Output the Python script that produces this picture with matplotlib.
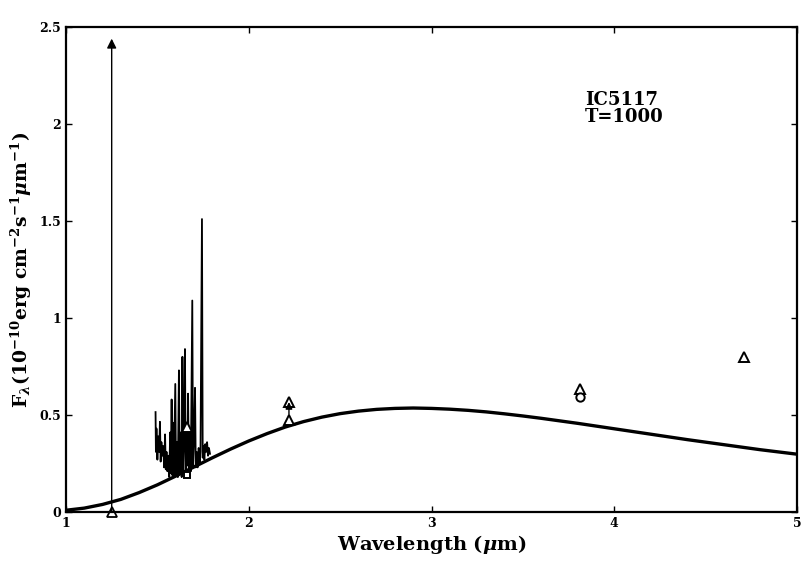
import matplotlib
matplotlib.use("Agg")
import matplotlib.pyplot as plt

# Blackbody model curve (T=1000 K)
bb_wl = [1.0, 1.1, 1.2, 1.3, 1.4, 1.5, 1.6, 1.7, 1.8, 1.9, 2.0, 2.1, 2.2, 2.3, 2.4,
         2.5, 2.6, 2.7, 2.8, 2.9, 3.0, 3.1, 3.2, 3.3, 3.4, 3.5, 3.6, 3.7, 3.8, 3.9,
         4.0, 4.2, 4.4, 4.6, 4.8, 5.0]
bb_flux = [0.009, 0.020, 0.039, 0.065, 0.100, 0.140, 0.185, 0.232, 0.279, 0.324,
           0.366, 0.404, 0.438, 0.466, 0.489, 0.507, 0.520, 0.529, 0.534, 0.536,
           0.534, 0.530, 0.524, 0.516, 0.506, 0.495, 0.483, 0.470, 0.457, 0.443,
           0.429, 0.401, 0.373, 0.347, 0.321, 0.298]

# Observed spectrum (H band)
sp_wl = [1.490, 1.492, 1.495, 1.500, 1.505, 1.510, 1.514, 1.518, 1.522, 1.527,
         1.532, 1.537, 1.542, 1.546, 1.550, 1.555, 1.560, 1.565, 1.570, 1.573,
         1.578, 1.582, 1.586, 1.590, 1.598, 1.602, 1.607, 1.612, 1.618, 1.622,
         1.628, 1.633, 1.637, 1.641, 1.646, 1.651, 1.655, 1.660, 1.664, 1.668,
         1.672, 1.678, 1.683, 1.691, 1.695, 1.700, 1.706, 1.710, 1.715, 1.720,
         1.726, 1.731, 1.736, 1.744, 1.748, 1.752, 1.757, 1.762, 1.767, 1.772,
         1.777, 1.782, 1.788]
sp_flux = [0.515, 0.31, 0.43, 0.27, 0.39, 0.31, 0.465, 0.26, 0.36, 0.29,
           0.34, 0.23, 0.40, 0.22, 0.31, 0.21, 0.29, 0.18, 0.41, 0.20,
           0.58, 0.19, 0.46, 0.18, 0.66, 0.19, 0.36, 0.18, 0.73, 0.20,
           0.41, 0.18, 0.80, 0.21, 0.36, 0.84, 0.20, 0.46, 0.24, 0.61,
           0.21, 0.41, 0.21, 1.09, 0.24, 0.36, 0.64, 0.23, 0.31, 0.23,
           0.33, 0.25, 0.31, 1.51, 0.28, 0.34, 0.27, 0.35, 0.31, 0.36,
           0.29, 0.33, 0.30]

# Photometric points
tri_wl = [1.66, 2.22, 2.22, 3.81, 4.71]
tri_flux = [0.44, 0.567, 0.474, 0.634, 0.80]
circ_wl = [3.81]
circ_flux = [0.594]
sq_wl = [1.66]
sq_flux = [0.19]
# Upper-limit arrow at J band
arrow_wl = 1.25
arrow_lo = 0.0
arrow_hi = 2.44

plt.rcParams['font.family'] = ['DejaVu Serif']
plt.rcParams['font.weight'] = 'bold'
plt.rcParams['mathtext.fontset'] = 'dejavuserif'

fig = plt.figure(figsize=(8.01, 5.62), dpi=100)
ax = fig.add_axes([66/801, 1-512/562, (797-66)/801, (512-27)/562])

ax.plot(bb_wl, bb_flux, color='black', lw=2.4, solid_capstyle='butt')
ax.plot(sp_wl, sp_flux, color='black', lw=1.3)

ax.plot(tri_wl, tri_flux, linestyle='none', marker='^', ms=6.5, mfc='white',
        mec='black', mew=1.4)
ax.plot(circ_wl, circ_flux, linestyle='none', marker='o', ms=6, mfc='white',
        mec='black', mew=1.4)
ax.plot(sq_wl, sq_flux, linestyle='none', marker='s', ms=5, mfc='white',
        mec='black', mew=1.4)

ax.annotate('', xy=(arrow_wl, arrow_hi), xytext=(arrow_wl, arrow_lo),
            arrowprops=dict(arrowstyle='-|>', color='black', lw=1.0,
                            mutation_scale=14, shrinkA=0, shrinkB=0))
ax.plot([arrow_wl], [arrow_lo], linestyle='none', marker='^', ms=6.5, mfc='white',
        mec='black', mew=1.3, clip_on=False)
ax.annotate('', xy=(tri_wl[1], tri_flux[1]), xytext=(tri_wl[2], tri_flux[2]),
            arrowprops=dict(arrowstyle='-|>', color='black', lw=1.0,
                            mutation_scale=10, shrinkA=4, shrinkB=0))

ax.set_xlim(1, 5)
ax.set_ylim(0, 2.5)
ax.set_xticks([1, 2, 3, 4, 5])
ax.set_xticklabels(['1', '2', '3', '4', '5'])
ax.set_yticks([0, 0.5, 1, 1.5, 2, 2.5])
ax.set_yticklabels(['0', '0.5', '1', '1.5', '2', '2.5'])
ax.tick_params(direction='in', length=4, width=1, labelsize=9, top=True, right=True)
for s in ax.spines.values():
    s.set_linewidth(1.6)

ax.set_xlabel(r'Wavelength ($\mu$m)', fontsize=14, fontweight='bold', labelpad=2)
ax.set_ylabel(r'F$_\lambda$(10$^{-10}$erg cm$^{-2}$s$^{-1}$$\mu$m$^{-1}$)',
              fontsize=13.5, fontweight='bold', labelpad=4)

ax.text(3.84, 2.17, 'IC5117\nT=1000', fontsize=13, fontweight='bold',
        va='top', ha='left', linespacing=0.9)

fig.savefig('out.png', dpi=100)
